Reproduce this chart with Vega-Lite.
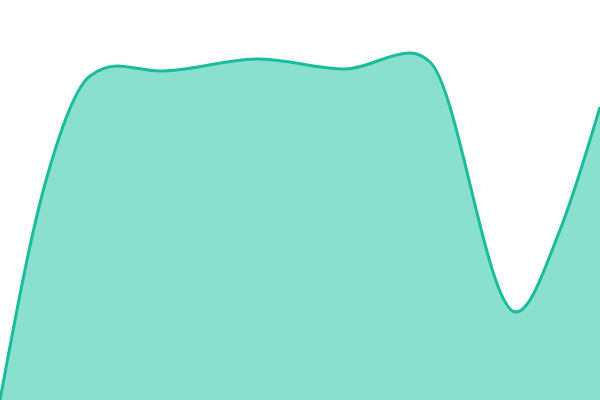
{
  "$schema": "https://vega.github.io/schema/vega-lite/v6.json",
  "width": 600,
  "height": 400,
  "autosize": {"type": "fit", "contains": "padding"},
  "padding": 0,
  "background": "white",
  "config": {"view": {"stroke": null}},
  "data": {"values": [
    {"x": 0, "v": 0},
    {"x": 45, "v": 216},
    {"x": 90, "v": 324},
    {"x": 117, "v": 334},
    {"x": 160, "v": 329},
    {"x": 258, "v": 341},
    {"x": 345, "v": 331},
    {"x": 410, "v": 347},
    {"x": 430, "v": 338},
    {"x": 516, "v": 88},
    {"x": 560, "v": 170},
    {"x": 600, "v": 293}
  ]},
  "mark": {
    "type": "area",
    "interpolate": "monotone",
    "fill": "#89e0cf",
    "opacity": 1,
    "fillOpacity": 1,
    "line": {"color": "#1abc9c", "strokeWidth": 3, "interpolate": "monotone"},
    "clip": true
  },
  "encoding": {
    "x": {"field": "x", "type": "quantitative", "scale": {"domain": [0, 600], "nice": false, "zero": false}, "axis": null},
    "y": {"field": "v", "type": "quantitative", "scale": {"domain": [0, 400], "nice": false}, "axis": null}
  }
}
